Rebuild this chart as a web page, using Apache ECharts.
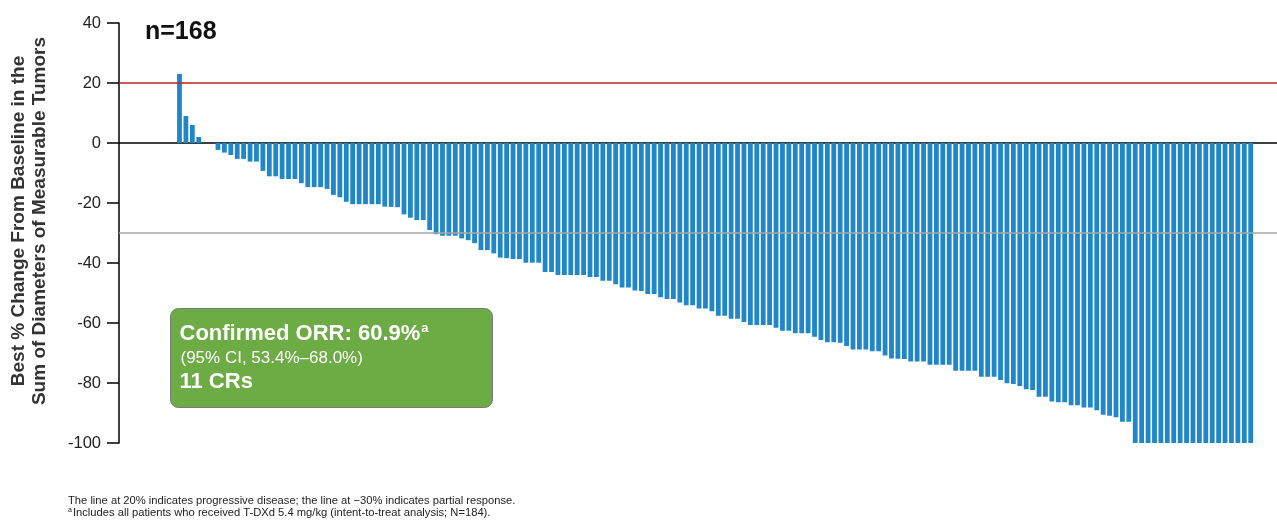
<!DOCTYPE html>
<html>
<head>
<meta charset="utf-8">
<title>Best % Change From Baseline</title>
<script src="https://cdn.jsdelivr.net/npm/echarts@6/dist/echarts.min.js"></script>
<style>
  html, body { margin: 0; padding: 0; background: #ffffff; }
  #chart { width: 1277px; height: 523px; }
</style>
</head>
<body>
<div id="chart"></div>
<script>
// Best % change from baseline in the sum of diameters, one value per patient (n=168), sorted
const bestChange = [
  23, 9, 6, 2, 0, 0, -2.3, -3.2, -4, -5.3,
  -5.3, -6.2, -6.2, -9.3, -11.1, -11.1, -12, -12, -12, -13.4,
  -14.7, -14.7, -14.7, -15.3, -17.3, -18.1, -19.6, -20.4, -20.4, -20.4,
  -20.4, -20.4, -21.2, -21.3, -21.4, -23.8, -24.9, -25.7, -25.7, -29,
  -30.4, -30.9, -30.9, -30.9, -31.8, -32.4, -33.4, -35.7, -35.7, -36.8,
  -38.2, -38.4, -38.7, -38.7, -39.9, -39.9, -39.9, -43, -43, -44,
  -44, -44, -44, -44, -44.7, -44.7, -45.9, -45.9, -47.1, -48.2,
  -48.2, -49.2, -49.3, -50.3, -50.3, -51.4, -52, -52, -53.2, -54.1,
  -54.1, -55.2, -55.2, -56.1, -57.6, -57.6, -58.6, -58.6, -59.7, -60.7,
  -60.7, -60.7, -60.7, -61.6, -62.6, -62.6, -63.4, -63.4, -63.4, -64.6,
  -65.7, -66.4, -66.4, -66.6, -67.7, -68.8, -68.8, -68.8, -69.4, -69.4,
  -70.8, -71.8, -71.9, -72, -72.8, -72.8, -72.8, -73.9, -73.9, -73.9,
  -73.9, -75.9, -75.9, -75.9, -75.9, -77.9, -77.9, -77.9, -79, -80.1,
  -80.3, -81, -82.1, -82.3, -84.6, -84.6, -86.2, -86.4, -86.4, -87.4,
  -87.4, -88.2, -88.2, -89.1, -90.6, -90.9, -91.4, -92.9, -92.9, -100,
  -100, -100, -100, -100, -100, -100, -100, -100, -100, -100,
  -100, -100, -100, -100, -100, -100, -100, -100
];

// Axis range and reference thresholds (%)
const yMin = -100;
const yMax = 40;
const yStep = 20;
const progressiveDisease = 20;
const partialResponse = -30;

// Text blocks
const sampleSize = 'n=168';
const axisTitleLines = ['Best % Change From Baseline in the', 'Sum of Diameters of Measurable Tumors'];
const orrLine = 'Confirmed ORR: 60.9%';
const ciLine = '(95% CI, 53.4%–68.0%)';
const crLine = '11 CRs';
const footnotes = [
  'The line at 20% indicates progressive disease; the line at −30% indicates partial response.',
  'Includes all patients who received T-DXd 5.4 mg/kg (intent-to-treat analysis; N=184).'
];

const FONT = '"Liberation Sans", Arial, Helvetica, sans-serif';
const BAR_COLOR = '#1f86c8';

const chart = echarts.init(document.getElementById('chart'), null, { renderer: 'canvas' });

const barData = bestChange.map((v, i) => [i, v]);

// Patient positions on the x scale, leaving room left of the first bar
const xMin = -9.43;
const xMax = 171.1;

chart.setOption({
  backgroundColor: '#ffffff',
  animation: false,
  title: {
    text: sampleSize,
    left: 140,
    top: 15,
    textStyle: { fontFamily: FONT, fontSize: 25, fontWeight: 'bold', color: '#111111' }
  },
  grid: { left: 119, right: 0, top: 23, bottom: 80, containLabel: false },
  xAxis: {
    type: 'value',
    min: xMin,
    max: xMax,
    axisLine: { show: true, onZero: true, lineStyle: { color: '#000000', width: 1.5 } },
    axisTick: { show: false },
    axisLabel: { show: false },
    splitLine: { show: false }
  },
  yAxis: {
    type: 'value',
    min: yMin,
    max: yMax,
    interval: yStep,
    axisLine: { show: true, onZero: false, lineStyle: { color: '#000000', width: 1.5 } },
    axisTick: { show: true, inside: false, length: 12, lineStyle: { color: '#000000', width: 1.5 } },
    axisLabel: { margin: 18, fontFamily: FONT, fontSize: 16.5, color: '#222222' },
    splitLine: { show: false }
  },
  series: [{
    type: 'bar',
    data: barData,
    barWidth: 4.8,
    itemStyle: { color: BAR_COLOR },
    emphasis: { disabled: true },
    z: 2,
    markLine: {
      silent: true,
      symbol: 'none',
      label: { show: false },
      z: 5,
      data: [
        { yAxis: progressiveDisease, lineStyle: { color: '#b82227', width: 1.5, type: 'solid' } },
        { yAxis: partialResponse, lineStyle: { color: '#a6a6a6', width: 1.5, type: 'solid' } }
      ]
    }
  }],
  graphic: [
    {
      type: 'text',
      x: 29,
      y: 221,
      rotation: Math.PI / 2,
      style: {
        text: axisTitleLines.join('\n'),
        font: 'bold 19px ' + FONT,
        fill: '#333333',
        align: 'center',
        verticalAlign: 'middle',
        lineHeight: 21
      }
    },
    {
      type: 'group',
      left: 170,
      top: 308,
      children: [
        {
          type: 'rect',
          shape: { x: 0, y: 0, width: 322, height: 99, r: 8 },
          style: { fill: '#6dab45', stroke: '#7a7a7a', lineWidth: 1 }
        },
        {
          type: 'text',
          x: 9,
          y: 25,
          style: {
            text: '{m|' + orrLine + '}{s|a}',
            verticalAlign: 'middle',
            rich: {
              m: { font: 'bold 22px ' + FONT, fill: '#ffffff', verticalAlign: 'middle' },
              s: { font: 'bold 13px ' + FONT, fill: '#ffffff', padding: [0, 0, 10, 1] }
            }
          }
        },
        {
          type: 'text',
          x: 10,
          y: 50,
          style: { text: ciLine, font: '17px ' + FONT, fill: '#ffffff', verticalAlign: 'middle' }
        },
        {
          type: 'text',
          x: 9,
          y: 73,
          style: { text: crLine, font: 'bold 22px ' + FONT, fill: '#ffffff', verticalAlign: 'middle' }
        }
      ]
    },
    {
      type: 'text',
      x: 68,
      y: 501,
      style: { text: footnotes[0], font: '11.2px ' + FONT, fill: '#222222', verticalAlign: 'middle' }
    },
    {
      type: 'text',
      x: 68,
      y: 513,
      style: {
        text: '{s|a}{m|' + footnotes[1] + '}',
        verticalAlign: 'middle',
        rich: {
          s: { font: '7px ' + FONT, fill: '#222222', padding: [0, 1, 5, 0] },
          m: { font: '11.2px ' + FONT, fill: '#222222' }
        }
      }
    }
  ]
});
</script>
</body>
</html>
